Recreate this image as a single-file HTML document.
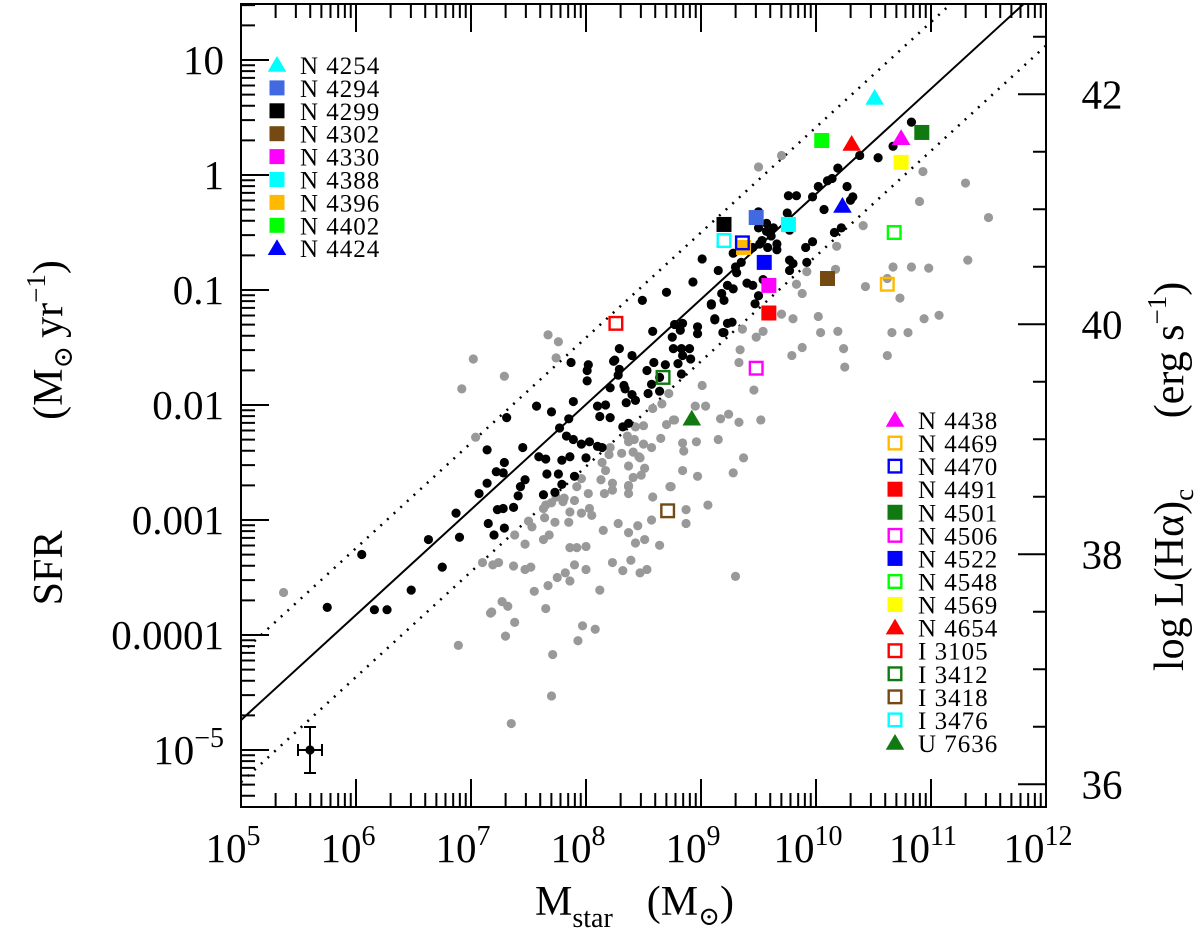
<!DOCTYPE html>
<html><head><meta charset="utf-8"><style>
body{margin:0;background:#fff}
svg{display:block;font-family:"Liberation Serif","DejaVu Serif",serif}
</style></head><body>
<svg id="chart" width="1200" height="942" viewBox="0 0 1200 942" xmlns="http://www.w3.org/2000/svg">
<g id="axes"></g>
<g id="lines"></g>
<g id="gray"></g>
<g id="black"></g>
<g id="special"></g>
<g id="legend"></g>
<text x="535" y="915" font-size="42">M<tspan font-size="28" dy="12">star</tspan><tspan dy="-12" dx="34">(M</tspan><tspan font-size="26" dy="10">⊙</tspan><tspan dy="-10">)</tspan></text>
<g>
<text transform="translate(62,568) rotate(-90)" text-anchor="middle" font-size="42">SFR</text>
<text transform="translate(62,340) rotate(-90)" text-anchor="middle" font-size="42">(M<tspan font-size="27" dy="10">⊙</tspan><tspan dy="-10" dx="8">yr</tspan><tspan font-size="27" dy="-17">−1</tspan><tspan dy="17">)</tspan></text>
</g>
<g>
<text transform="translate(1183,580) rotate(-90)" text-anchor="middle" font-size="42">log L(Hα)<tspan font-size="27" dy="10">c</tspan></text>
<text transform="translate(1183,350) rotate(-90)" text-anchor="middle" font-size="42">(erg s<tspan font-size="27" dy="-17">−1</tspan><tspan dy="17">)</tspan></text>
</g>
</svg>
<script>
// ---- data ----
const xTicks=[5,6,7,8,9,10,11,12];
const yTicks=[1,0,-1,-2,-3,-4,-5];
const yTickLabels=["10","1","0.1","0.01","0.001","0.0001","10^-5"];
const rTicks=[42,40,38,36];
const lineSlope=0.915;
const lineIntercepts=[-4.74,-4.16,-5.28]; // logSFR at logM=5 : solid, upper, lower
const blackM=[5.75,6.05,6.16,6.27,6.48,6.75,6.63,6.90,6.87,7.07,7.14,7.14,7.15,7.22,7.29,7.28,7.31,7.45,7.59,7.65,7.66,7.76,7.20,7.23,7.28,7.29,7.37,7.41,7.43,7.47,7.63,7.73,7.79,7.79,7.86,7.90,8.00,7.57,7.70,7.77,7.85,7.83,7.89,7.96,8.03,8.10,8.14,7.89,8.10,8.17,8.12,8.21,8.32,8.37,7.87,8.01,8.02,8.01,8.25,8.29,8.28,8.29,8.21,8.33,8.34,8.40,8.43,8.35,8.53,8.59,8.54,8.64,8.69,8.57,8.49,8.58,8.77,8.84,8.82,8.75,8.76,8.83,8.90,8.84,8.91,8.80,8.83,8.97,8.97,9.12,9.09,9.19,9.23,9.01,9.15,9.28,9.35,9.30,9.31,8.93,8.70,9.40,9.45,9.54,9.50,9.47,9.23,9.28,9.18,9.20,9.09,9.12,9.27,9.20,9.50,9.57,9.63,9.57,9.50,9.61,9.53,9.51,9.45,9.58,9.66,9.66,9.77,9.77,9.80,9.77,9.92,9.91,9.97,10.16,10.22,9.75,9.76,9.83,9.97,10.02,10.10,10.14,10.19,10.27,10.32,10.30,10.07,10.38,10.54,10.67,10.83,8.24,8.40,8.64];
const blackS=[-3.76,-3.30,-3.78,-3.78,-3.61,-3.41,-3.17,-3.15,-2.94,-2.77,-2.68,-2.39,-3.03,-2.58,-2.50,-2.59,-2.11,-2.37,-2.45,-2.47,-2.60,-2.60,-3.13,-2.91,-2.90,-3.07,-2.89,-2.79,-2.71,-2.65,-2.78,-2.76,-2.69,-2.48,-2.45,-2.62,-2.46,-2.01,-2.06,-2.20,-2.12,-2.27,-2.30,-2.34,-2.32,-2.36,-2.37,-1.97,-2.01,-2.00,-2.10,-2.11,-2.19,-2.16,-1.63,-1.70,-1.65,-1.79,-1.61,-1.51,-1.74,-1.69,-1.85,-1.83,-1.86,-1.91,-1.96,-1.98,-1.70,-1.63,-1.90,-1.88,-1.65,-1.82,-1.09,-1.36,-1.30,-1.29,-1.35,-1.41,-1.51,-1.51,-1.51,-1.57,-1.60,-1.64,-1.73,-1.32,-1.38,-1.26,-1.13,-1.37,-1.29,-0.73,-0.83,-0.68,-0.76,-0.80,-0.85,-0.93,-1.02,-0.94,-0.96,-0.91,-1.05,-1.12,-0.96,-0.99,-1.03,-1.09,-1.12,-1.25,-1.28,-1.37,-0.32,-0.42,-0.46,-0.49,-0.46,-0.53,-0.57,-0.60,-0.63,-0.63,-0.60,-0.65,-0.48,-0.74,-0.77,-0.83,-0.76,-0.63,-0.58,-0.50,-0.46,-0.33,-0.18,-0.18,-0.19,-0.10,-0.05,-0.03,0.06,-0.10,-0.19,-0.22,-0.30,0.17,0.15,0.25,0.46,-1.62,-1.57,-1.76];
const grayM=[5.37,7.02,6.92,7.04,7.29,7.67,7.76,7.74,6.89,7.18,7.27,7.32,7.65,7.38,7.30,7.97,8.08,7.93,7.71,7.70,7.35,7.10,7.19,7.24,7.37,7.47,7.52,7.90,8.00,8.23,8.39,8.32,8.47,8.53,9.30,7.75,7.82,7.86,7.67,7.55,8.12,7.17,7.92,8.02,8.16,8.23,8.37,8.37,8.58,8.73,8.87,9.06,8.87,7.74,7.81,7.90,7.65,7.86,7.96,8.03,8.05,7.64,7.73,7.85,7.53,7.50,8.15,8.28,8.37,8.45,8.57,7.38,7.47,7.63,7.68,7.86,7.92,8.00,8.43,8.51,8.64,8.74,9.01,9.17,9.24,9.15,8.96,8.84,8.85,8.84,8.97,8.65,8.70,8.76,8.57,8.50,8.43,8.36,8.42,8.50,8.37,8.31,8.41,8.46,8.21,8.20,8.14,8.17,8.37,8.51,8.48,8.41,8.37,8.13,8.23,7.96,7.80,7.70,7.63,8.58,8.66,8.72,8.77,8.95,9.04,9.33,9.52,8.47,9.37,9.28,9.46,9.36,9.54,9.48,9.34,9.33,9.70,9.50,10.93,11.30,10.90,11.50,10.41,10.18,11.32,10.17,9.92,10.67,10.83,10.98,10.62,10.43,10.73,9.83,9.88,9.70,9.80,10.02,10.04,10.19,10.94,11.07,10.66,10.80,9.88,9.79,10.24,10.25,10.62];
const grayS=[-3.63,-1.60,-1.86,-2.28,-1.75,-1.39,-1.45,-1.59,-4.09,-3.80,-3.71,-3.75,-3.77,-3.89,-4.01,-3.92,-3.95,-4.05,-4.17,-4.53,-4.77,-3.37,-3.39,-3.37,-3.40,-3.43,-3.41,-3.39,-3.43,-3.37,-3.35,-3.44,-3.46,-3.43,-3.49,-3.50,-3.46,-3.53,-3.57,-3.62,-3.61,-3.81,-2.71,-2.77,-2.77,-2.74,-2.71,-2.77,-2.80,-2.71,-2.91,-2.87,-3.03,-2.80,-2.81,-2.83,-2.87,-2.93,-2.94,-2.90,-2.96,-2.98,-3.02,-3.02,-3.06,-3.01,-3.09,-3.03,-3.11,-3.05,-3.00,-3.13,-3.21,-3.17,-3.13,-3.24,-3.24,-3.23,-3.20,-3.17,-3.22,-2.71,-1.83,-2.12,-2.08,-2.30,-2.32,-2.33,-2.40,-2.57,-2.62,-2.29,-2.17,-2.13,-2.37,-2.18,-2.19,-2.27,-2.30,-2.34,-2.32,-2.42,-2.41,-2.45,-2.37,-2.43,-2.50,-2.57,-2.53,-2.55,-2.61,-2.63,-2.70,-2.65,-2.68,-2.64,-2.84,-2.85,-2.90,-2.03,-1.99,-1.90,-2.13,-2.01,-2.01,-2.15,-2.13,-2.46,-2.46,-2.59,-1.87,-1.34,-1.36,-1.41,-1.52,-1.63,0.17,0.07,0.03,-0.07,-0.23,-0.37,-0.44,-0.62,-0.74,-0.82,-0.84,-0.80,-0.80,-0.81,-0.90,-0.97,-1.07,-0.95,-1.03,-1.21,-1.25,-1.23,-1.37,-1.36,-1.25,-1.22,-1.37,-1.37,-1.50,-1.57,-1.51,-1.67,-1.57];
const galNames=["N 4254","N 4294","N 4299","N 4302","N 4330","N 4388","N 4396","N 4402","N 4424","N 4438","N 4469","N 4470","N 4491","N 4501","N 4506","N 4522","N 4548","N 4569","N 4654","I 3105","I 3412","I 3418","I 3476","U 7636"];
const galM=[10.51,9.48,9.20,10.10,9.59,9.76,9.37,10.05,10.23,10.74,10.62,9.36,9.59,10.92,9.48,9.55,10.68,10.74,10.31,8.26,8.67,8.71,9.20,8.92];
const galS=[0.67,-0.37,-0.43,-0.90,-0.96,-0.43,-0.63,0.30,-0.27,0.32,-0.95,-0.59,-1.20,0.37,-1.68,-0.76,-0.50,0.11,0.27,-1.29,-1.76,-2.92,-0.57,-2.12];
const galColor=["#00ffff","#4169e1","#000000","#744a12","#ff00ff","#00ffff","#ffb900","#00ff00","#0000ff","#ff00ff","#ffb900","#0000ff","#ff0000","#107a10","#ff00ff","#0000ff","#00ff00","#ffff00","#ff0000","#ff0000","#107a10","#744a12","#00ffff","#107a10"];
const galShape=["tri","sq","sq","sq","sq","sq","sq","sq","tri","tri","open","open","sq","sq","open","sq","open","sq","tri","open","open","open","open","tri"];
const errM=5.6, errS=-5.0;

// ---- scales ----
const X0=241,X1=1046,Y0=4,Y1=807;
const xs=m=>241+115*(m-5);
const ys=s=>60+115*(1-s);
const yr=l=>94.3+115*(42-l);
const NS="http://www.w3.org/2000/svg";
function mk(tag,attrs,parent){const e=document.createElementNS(NS,tag);for(const k in attrs)e.setAttribute(k,attrs[k]);parent.appendChild(e);return e;}
const axes=document.getElementById('axes');
const frame=mk('rect',{x:X0,y:Y0,width:X1-X0,height:Y1-Y0,fill:'none',stroke:'#000','stroke-width':2},axes);


let tp='';
for(let d=5;d<12;d++){for(let k=1;k<10;k++){const x=xs(d+Math.log10(k));const L=k==1?28:14;
 if(k>1||d>5){tp+=`M${x},${Y1}v${-L}M${x},${Y0}v${L}`;}}}
for(let d=-6;d<2;d++){for(let k=1;k<10;k++){const y=ys(d+Math.log10(k));if(y<Y0+1||y>Y1-1)continue;const L=k==1?28:14;tp+=`M${X0},${y}h${L}`;}}
for(let l=35.5;l<=43;l+=0.5){const y=yr(l);if(y<Y0+1||y>Y1-1)continue;const L=(Math.abs(l-Math.round(l))<0.01&&Math.round(l)%2==0)?28:13;tp+=`M${X1},${y}h${-L}`;}
const tk=mk('path',{d:tp,stroke:'#000','stroke-width':2,fill:'none'},axes);


xTicks.forEach(d=>{const t=mk('text',{x:xs(d)-8,y:862,'text-anchor':'middle','font-size':41},axes);
 
 
 t.innerHTML=`10<tspan font-size="28" dy="-17">${d}</tspan>`;});
yTicks.forEach((s,i)=>{const t=mk('text',{x:224,y:ys(s)+14,'text-anchor':'end','font-size':41},axes);
 
 
 const lab=yTickLabels[i];
 if(lab.indexOf('^')>0){const p=lab.split('^');t.innerHTML=`${p[0]}<tspan font-size="28" dy="-17">${p[1].replace('-','−')}</tspan>`;}else t.textContent=lab;});
rTicks.forEach(l=>{const t=mk('text',{x:1102,y:yr(l)+14,'text-anchor':'middle','font-size':41},axes);
 
 
 t.textContent=l;});

const lg=document.getElementById('lines');
const cp=mk('clipPath',{id:'cp'},lg);mk('rect',{x:X0,y:Y0,width:X1-X0,height:Y1-Y0},cp);
lineIntercepts.forEach((b,i)=>{const l=mk('line',{x1:xs(5),y1:ys(b),x2:xs(12),y2:ys(b+lineSlope*7),stroke:'#000','stroke-width':i==0?2:2.5,'stroke-dasharray':i==0?'none':'2 7','clip-path':'url(#cp)'},lg);
 
 });

const gg=document.getElementById('gray');
grayM.forEach((m,i)=>{const c=mk('circle',{cx:xs(m),cy:ys(grayS[i]),r:4.6,fill:'#999'},gg);
 
 });
const bg=document.getElementById('black');
blackM.forEach((m,i)=>{const c=mk('circle',{cx:xs(m),cy:ys(blackS[i]),r:4.6,fill:'#000'},bg);
 
 });
const eb=mk('path',{d:`M${xs(errM)-12},${ys(errS)}h24M${xs(errM)-12},${ys(errS)-6}v12M${xs(errM)+12},${ys(errS)-6}v12M${xs(errM)},${ys(errS)-23}v46M${xs(errM)-6},${ys(errS)-23}h12M${xs(errM)-6},${ys(errS)+23}h12`,stroke:'#000','stroke-width':2,fill:'none'},bg);


mk('circle',{cx:xs(errM),cy:ys(errS),r:4.6,fill:'#000'},bg);

function marker(shape,color,x,y,parent,sz){
 if(shape=='tri')return mk('polygon',{points:`${x},${y-sz*0.6} ${x-sz*0.62},${y+sz*0.45} ${x+sz*0.62},${y+sz*0.45}`,fill:color},parent);
 if(shape=='sq')return mk('rect',{x:x-sz/2,y:y-sz/2,width:sz,height:sz,fill:color},parent);
 return mk('rect',{x:x-sz/2+1.2,y:y-sz/2+1.2,width:sz-2.4,height:sz-2.4,fill:'none',stroke:color,'stroke-width':2.4},parent);}
const sp=document.getElementById('special');
galM.forEach((m,i)=>{const e=marker(galShape[i],galColor[i],xs(m),ys(galS[i]),sp,15);
 
 });

const lgd=document.getElementById('legend');
galNames.forEach((n,i)=>{let lx,ly;
 if(i<9){lx=277;ly=65+i*22.9;}else{lx=895;ly=420+(i-9)*23.07;}
 const e=marker(galShape[i],galColor[i],lx,ly,lgd,15);
 
 
 const t=mk('text',{x:lx+23,y:ly+9,'font-size':25,'letter-spacing':1},lgd);
 
 
 t.textContent=n;});
</script>
</body></html>
